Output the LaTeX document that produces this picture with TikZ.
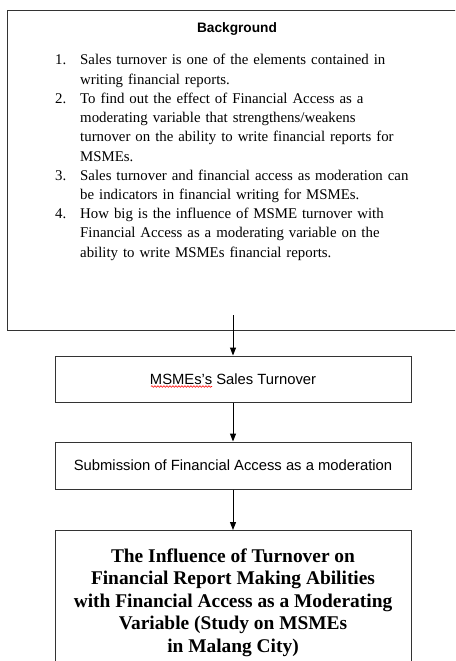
\documentclass[tikz,border=0pt]{standalone}
\usepackage{fontspec}
\setmainfont{Liberation Serif}
\setsansfont{Liberation Sans}
\usetikzlibrary{arrows.meta,decorations.pathmorphing}
\begin{document}
\begin{tikzpicture}[x=1pt,y=-1pt,
  frame/.style={draw=black!80, line width=1pt},
  box/.style={frame, minimum width=356pt, inner sep=0pt,
    font=\sffamily\fontsize{14.8}{17}\selectfont},
  arr/.style={-{Triangle[length=8pt,width=6pt]}, line width=1pt, black},
  listtxt/.style={anchor=base west, inner sep=0pt, text width=345pt, align=left,
    font=\fontsize{14.85}{19.2}\selectfont},
  listnum/.style={anchor=base west, inner sep=0pt, font=\fontsize{14.85}{19.2}\selectfont},
  squiggle/.style={red, line width=0.6pt, decorate,
    decoration={snake, amplitude=0.8pt, segment length=3pt}}]
\useasboundingbox (0,0) rectangle (455,661);
\fill[white] (0,0) rectangle (455,661);
\clip (0,0) rectangle (455,661);

% top box
\node[frame, anchor=north west, minimum width=460pt, minimum height=320pt, inner sep=0pt] (b1) at (7,10) {};
\node[font=\sffamily\bfseries\fontsize{13.7}{16}\selectfont, anchor=base] (bg) at (237,33) {Background};

\node[listnum] (n1) at (55,65) {1.};
\node[listtxt] (t1) at (80,65) {Sales turnover is one of the elements contained in\\writing financial reports.};
\node[listnum] (n2) at (55,103.4) {2.};
\node[listtxt] (t2) at (80,103.4) {To find out the effect of Financial Access as a\\moderating variable that strengthens/weakens\\turnover on the ability to write financial reports for\\MSMEs.};
\node[listnum] (n3) at (55,180.2) {3.};
\node[listtxt] (t3) at (80,180.2) {Sales turnover and financial access as moderation can\\be indicators in financial writing for MSMEs.};
\node[listnum] (n4) at (55,218.6) {4.};
\node[listtxt] (t4) at (80,218.6) {How big is the influence of MSME turnover with\\Financial Access as a moderating variable on the\\ability to write MSMEs financial reports.};

% boxes
\node[box, minimum height=46pt] (b2) at (233,379) {MSMEs’s Sales Turnover};
\node[box, minimum height=47pt] (b3) at (233,465.5) {Submission of Financial Access as a moderation};
\node[frame, anchor=north, minimum width=356pt, inner xsep=0pt, inner ysep=18pt, align=center,
  font=\bfseries\fontsize{19.4}{22.5}\selectfont] (b4) at (233,530)
  {The Influence of Turnover on\\Financial Report Making Abilities\\with Financial Access as a Moderating\\Variable (Study on MSMEs\\in Malang City)};

\coordinate (a0) at (233,315);
\draw[arr] (a0) -- (b2.north);
\draw[arr] (b2.south) -- (b3.north);
\draw[arr] (b3.south) -- (b4.north);

\draw[squiggle] (151,386.5) -- (212,386.5);
\end{tikzpicture}
\end{document}
